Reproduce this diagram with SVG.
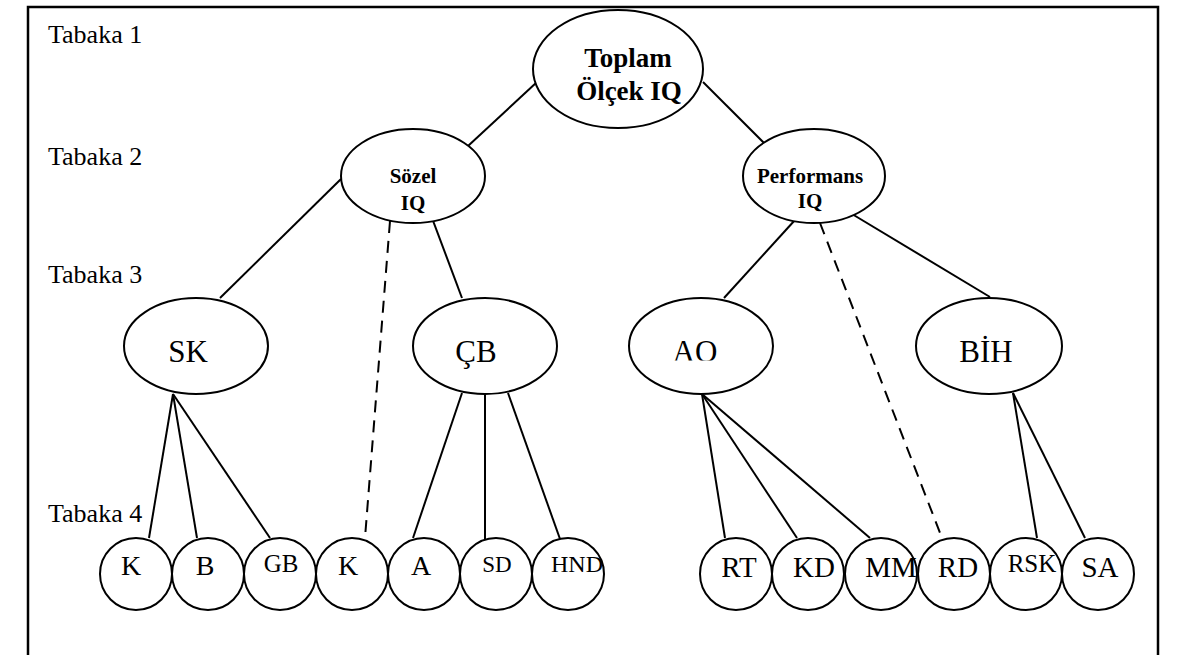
<svg xmlns="http://www.w3.org/2000/svg" width="1192" height="655" viewBox="0 0 1192 655">
<style>
.n{fill:#fff;stroke:#000;stroke-width:2}
.c{stroke:#000;stroke-width:2;fill:none}
.d{stroke-dasharray:12 8}
.t{font-family:"Liberation Serif","Times New Roman",serif;fill:#000;text-anchor:middle}
.b{font-weight:bold}
.lab{font-family:"Liberation Serif","Times New Roman",serif;font-size:26px;fill:#000}
</style>
<defs>
<clipPath id="aoclip"><rect x="640" y="320" width="120" height="40.5"/></clipPath>
</defs>
<rect x="28" y="7" width="1130" height="660" fill="#fff" stroke="#000" stroke-width="2.5"/>
<g id="labels">
<text class="lab" x="48" y="43">Tabaka 1</text>
<text class="lab" x="48" y="165">Tabaka 2</text>
<text class="lab" x="48" y="283">Tabaka 3</text>
<text class="lab" x="48" y="522">Tabaka 4</text>
</g>
<g id="connectors">
<line class="c" x1="537" y1="82" x2="468" y2="146"/>
<line class="c" x1="703" y1="82" x2="764" y2="143"/>
<line class="c" x1="341" y1="179" x2="220" y2="298"/>
<line class="c d" x1="390" y1="221" x2="365" y2="538"/>
<line class="c" x1="432" y1="218" x2="462" y2="298"/>
<line class="c" x1="795" y1="220" x2="724" y2="298"/>
<line class="c d" x1="820" y1="223" x2="942" y2="538"/>
<line class="c" x1="852" y1="214" x2="990" y2="297"/>
<line class="c" x1="173" y1="394" x2="149" y2="538"/>
<line class="c" x1="173" y1="394" x2="197" y2="538"/>
<line class="c" x1="173" y1="394" x2="270" y2="538"/>
<line class="c" x1="462" y1="393" x2="413" y2="538"/>
<line class="c" x1="485" y1="393" x2="485" y2="540"/>
<line class="c" x1="508" y1="393" x2="560" y2="539"/>
<line class="c" x1="702" y1="394" x2="725" y2="538"/>
<line class="c" x1="702" y1="394" x2="797" y2="538"/>
<line class="c" x1="702" y1="394" x2="870" y2="538"/>
<line class="c" x1="1013" y1="393" x2="1037" y2="538"/>
<line class="c" x1="1013" y1="393" x2="1085" y2="538"/>
</g>
<g id="n-toplam"><ellipse class="n" cx="618" cy="69" rx="85" ry="59"/>
<text class="t b" x="628" y="67" font-size="27">Toplam</text><text class="t b" x="629" y="100" font-size="27">Ölçek IQ</text></g>
<g id="n-sozel"><ellipse class="n" cx="413" cy="176" rx="72" ry="47"/>
<text class="t b" x="413" y="183" font-size="21">Sözel</text><text class="t b" x="413" y="210" font-size="21">IQ</text></g>
<g id="n-perf"><ellipse class="n" cx="814" cy="176" rx="71" ry="47"/>
<text class="t b" x="810" y="183" font-size="21">Performans</text><text class="t b" x="810" y="208" font-size="21">IQ</text></g>
<g id="n-sk"><ellipse class="n" cx="196" cy="346" rx="72" ry="48"/><text class="t" x="188" y="362" font-size="31">SK</text></g>
<g id="n-cb"><ellipse class="n" cx="485" cy="346" rx="72" ry="48"/><text class="t" x="476" y="362" font-size="31">ÇB</text></g>
<g id="n-ao"><ellipse class="n" cx="701" cy="346" rx="72" ry="48"/><text class="t" x="695" y="362" font-size="31" clip-path="url(#aoclip)">AO</text></g>
<g id="n-bih"><ellipse class="n" cx="989" cy="346" rx="73" ry="48"/><text class="t" x="986" y="362" font-size="31">BİH</text></g>
<g id="n-k1"><circle class="n" cx="136" cy="574" r="36"/><text class="t" x="131" y="575" font-size="28">K</text></g>
<g id="n-b"><circle class="n" cx="208" cy="574" r="36"/><text class="t" x="205" y="575" font-size="28">B</text></g>
<g id="n-gb"><circle class="n" cx="280" cy="574" r="36"/><text class="t" x="281" y="572" font-size="25">GB</text></g>
<g id="n-k2"><circle class="n" cx="352" cy="574" r="36"/><text class="t" x="348" y="575" font-size="28">K</text></g>
<g id="n-a"><circle class="n" cx="424" cy="574" r="36"/><text class="t" x="421" y="575" font-size="28">A</text></g>
<g id="n-sd"><circle class="n" cx="496" cy="574" r="36"/><text class="t" x="497" y="572" font-size="23">SD</text></g>
<g id="n-hnd"><circle class="n" cx="568" cy="574" r="36"/><text class="t" x="577" y="572" font-size="24">HND</text></g>
<g id="n-rt"><circle class="n" cx="736" cy="574" r="36"/><text class="t" x="739" y="577" font-size="29">RT</text></g>
<g id="n-kd"><circle class="n" cx="808" cy="574" r="36"/><text class="t" x="814" y="577" font-size="29">KD</text></g>
<g id="n-mm"><circle class="n" cx="881" cy="574" r="36"/><text class="t" x="891" y="577" font-size="29">MM</text></g>
<g id="n-rd"><circle class="n" cx="954" cy="574" r="36"/><text class="t" x="958" y="577" font-size="29">RD</text></g>
<g id="n-rsk"><circle class="n" cx="1026" cy="574" r="36"/><text class="t" x="1032" y="572" font-size="25">RSK</text></g>
<g id="n-sa"><circle class="n" cx="1098" cy="574" r="36"/><text class="t" x="1100" y="577" font-size="29">SA</text></g>
</svg>
